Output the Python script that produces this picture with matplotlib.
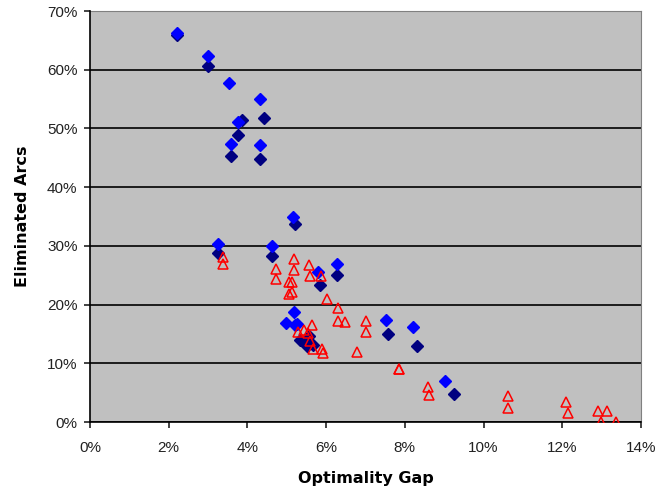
import matplotlib
matplotlib.use('Agg')
import matplotlib.pyplot as plt
from matplotlib.ticker import FuncFormatter, MultipleLocator

plt.rcParams['font.family'] = ['Liberation Sans', 'DejaVu Sans']

# donnees (en %)
blue_gap = [2.22, 2.99, 3.53, 4.31, 3.77, 3.57, 4.31, 5.15, 3.26, 4.62,
            5.80, 6.28, 5.18, 4.98, 5.21, 5.27, 7.53, 8.21, 9.03]
blue_arcs = [66.3, 62.3, 57.7, 55.0, 51.1, 47.3, 47.1, 34.9, 30.3, 30.0,
             25.6, 26.9, 18.8, 16.9, 16.5, 16.7, 17.3, 16.1, 7.0]

navy_gap = [2.22, 2.99, 4.42, 3.85, 3.77, 3.57, 4.31, 5.20, 3.26, 4.62,
            5.84, 6.28, 5.34, 5.57, 5.52, 5.67, 7.57, 8.32, 9.24]
navy_arcs = [65.9, 60.7, 51.8, 51.4, 48.9, 45.3, 44.8, 33.7, 28.7, 28.2,
             23.3, 25.0, 13.9, 14.7, 12.9, 13.1, 15.0, 12.9, 4.7]

red_gap = [3.39, 3.39, 5.19, 5.19, 4.72, 4.72, 5.57, 5.59, 5.88, 5.06,
           5.12, 5.06, 5.12, 6.03, 6.31, 6.29, 6.49, 7.01, 7.01, 5.63,
           5.29, 5.43, 5.54, 5.60, 5.66, 5.90, 5.93, 6.79, 7.85, 7.86,
           8.58, 8.61, 10.61, 10.61, 12.10, 12.14, 12.92, 13.13, 12.98, 13.36]
red_arcs = [28.1, 26.9, 27.7, 25.9, 26.1, 24.4, 26.7, 24.8, 24.9, 23.9,
            23.9, 21.8, 22.2, 21.0, 19.4, 17.2, 17.0, 17.2, 15.4, 16.5,
            15.3, 15.6, 15.1, 13.8, 12.4, 12.4, 11.8, 12.0, 9.1, 9.0,
            6.0, 4.6, 4.4, 2.4, 3.4, 1.5, 1.8, 1.8, 0.0, 0.0]

fig = plt.figure(figsize=(6.59, 4.93), dpi=100)
fig.patch.set_facecolor('white')
ax = fig.add_axes([90 / 659, 1 - 422 / 493, 551 / 659, 411 / 493])
ax.set_facecolor('#C0C0C0')

ax.set_xlim(0, 14)
ax.set_ylim(0, 70)

# quadrillage horizontal noir
ax.yaxis.set_major_locator(MultipleLocator(10))
ax.xaxis.set_major_locator(MultipleLocator(2))
ax.grid(axis='y', color='black', linewidth=1.2, zorder=1)
ax.set_axisbelow(True)

ax.plot(navy_gap, navy_arcs, linestyle='none', marker='D', markersize=5.8,
        color='#000080', zorder=3)
ax.plot(blue_gap, blue_arcs, linestyle='none', marker='D', markersize=5.8,
        color='#0000FF', zorder=4)
ax.plot(red_gap, red_arcs, linestyle='none', marker='^', markersize=7,
        markerfacecolor='none', markeredgecolor='#FF0000', markeredgewidth=1.1,
        zorder=5)

pct = FuncFormatter(lambda v, p: '%d%%' % round(v))
ax.xaxis.set_major_formatter(pct)
ax.yaxis.set_major_formatter(pct)

for s in ['top', 'right']:
    ax.spines[s].set_color('#808080')
    ax.spines[s].set_zorder(2)
for s in ['left', 'bottom']:
    ax.spines[s].set_color('black')
    ax.spines[s].set_linewidth(1.2)

ax.tick_params(axis='both', direction='out', length=4, width=1.2,
               labelsize=11, colors='#222222')
ax.tick_params(axis='y', pad=5)
ax.tick_params(axis='x', pad=10)

ax.set_xlabel('Optimality Gap', fontsize=11.5, fontweight='bold', labelpad=11,
              family='DejaVu Sans')
ax.set_ylabel('Eliminated Arcs', fontsize=11.5, fontweight='bold', labelpad=12,
              family='DejaVu Sans')

plt.savefig('out.png', dpi=100)
